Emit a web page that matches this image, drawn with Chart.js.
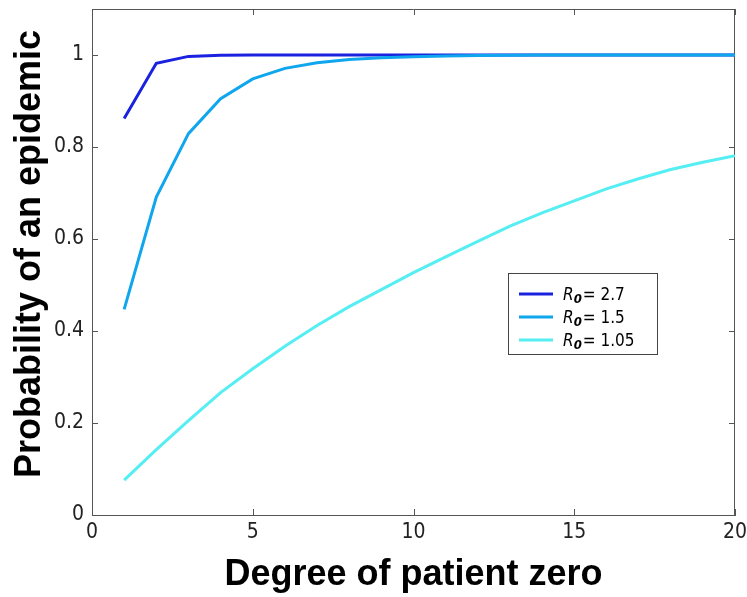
<!DOCTYPE html>
<html><head><meta charset="utf-8">
<script src="https://cdn.jsdelivr.net/npm/chart.js@4"></script>
<style>html,body{margin:0;padding:0;background:#fff;} canvas{display:block;}</style>
</head><body>
<canvas id="c" width="747" height="597"></canvas>
<script>
const degrees = [1,2,3,4,5,6,7,8,9,10,11,12,13,14,15,16,17,18,19,20];
const r0Values = ['2.7', '1.5', '1.05'];
const probR27 = [0.862,0.982,0.997,0.9995,1,1,1,1,1,1,1,1,1,1,1,1,1,1,1,1];
const probR15 = [0.447,0.691,0.829,0.905,0.948,0.971,0.983,0.990,0.994,0.996,0.998,0.999,0.9995,1,1,1,1,1,1,1];
const probR105 = [0.076,0.142,0.205,0.266,0.318,0.367,0.412,0.453,0.490,0.527,0.561,0.595,0.628,0.657,0.683,0.709,0.731,0.751,0.767,0.781];
const xTicks = [0,5,10,15,20];
const xTickLabels = ['0','5','10','15','20'];
const yTicks = [0,0.2,0.4,0.6,0.8,1];
const yTickLabels = ['0','0.2','0.4','0.6','0.8','1'];
const xTitle = 'Degree of patient zero';
const yTitle = 'Probability of an epidemic';
const seriesColors = ['#1a22e0', '#0fa6ee', '#55eef2'];

const NARROW = "'Liberation Sans Narrow', 'DejaVu Sans Condensed', 'Liberation Sans', sans-serif";
const BOLD = "'Liberation Sans', Arial, sans-serif";
const AXIS_COLOR = '#555';

const seriesData = [probR27, probR15, probR105];

const framePlugin = {
  id: 'frame',
  beforeDatasetsDraw(chart) {
    const {ctx, chartArea: ca, scales} = chart;
    ctx.save();
    ctx.strokeStyle = AXIS_COLOR;
    ctx.lineWidth = 1;
    ctx.beginPath();
    ctx.moveTo(ca.left, ca.top + 0.5); ctx.lineTo(ca.right, ca.top + 0.5);
    ctx.moveTo(ca.right - 0.5, ca.top); ctx.lineTo(ca.right - 0.5, ca.bottom);
    const tl = 6;
    xTicks.forEach(v => {
      const x = Math.round(scales.x.getPixelForValue(v)) + 0.5;
      ctx.moveTo(x, ca.bottom); ctx.lineTo(x, ca.bottom - tl);
      ctx.moveTo(x, ca.top); ctx.lineTo(x, ca.top + tl);
    });
    yTicks.forEach(v => {
      const y = Math.round(scales.y.getPixelForValue(v)) + 0.5;
      ctx.moveTo(ca.left, y); ctx.lineTo(ca.left + tl, y);
      ctx.moveTo(ca.right, y); ctx.lineTo(ca.right - tl, y);
    });
    ctx.stroke();
    ctx.restore();
  },
  afterDraw(chart) {
    const {ctx, chartArea: ca} = chart;
    ctx.save();
    ctx.translate(29.6, (ca.top + ca.bottom) / 2 - 8);
    ctx.rotate(-Math.PI / 2);
    ctx.fillStyle = '#000';
    ctx.font = 'bold 36px ' + BOLD;
    ctx.textAlign = 'center';
    ctx.textBaseline = 'middle';
    ctx.fillText(yTitle, 0, 0);
    ctx.restore();
  }
};

const legendPlugin = {
  id: 'r0legend',
  afterDatasetsDraw(chart) {
    const {ctx, chartArea: ca} = chart;
    const w = 149, h = 81;
    const left = ca.right - 78 - w, top = ca.top + 264;
    ctx.save();
    ctx.fillStyle = '#fff';
    ctx.fillRect(left, top, w, h);
    ctx.strokeStyle = '#444';
    ctx.lineWidth = 1;
    ctx.strokeRect(left + 0.5, top + 0.5, w, h);
    chart.data.datasets.forEach((ds, i) => {
      const cy = top + 21 + i * 23;
      ctx.strokeStyle = ds.borderColor;
      ctx.lineWidth = 3;
      ctx.beginPath();
      ctx.moveTo(left + 11, cy); ctx.lineTo(left + 45, cy);
      ctx.stroke();
      ctx.fillStyle = '#000';
      ctx.textBaseline = 'alphabetic';
      ctx.textAlign = 'left';
      let x = left + 55;
      const base = cy + 6;
      ctx.font = 'italic 17px ' + NARROW;
      ctx.fillText('R', x, base);
      x += ctx.measureText('R').width;
      ctx.font = 'italic bold 13px ' + NARROW;
      ctx.fillText('0', x, base + 3);
      x += ctx.measureText('0').width + 1;
      ctx.font = '17px ' + NARROW;
      ctx.fillText('= ' + r0Values[i], x, base);
    });
    ctx.restore();
  }
};

new Chart(document.getElementById('c'), {
  type: 'line',
  data: {
    labels: degrees,
    datasets: seriesData.map((d, i) => ({
      label: 'R0= ' + r0Values[i],
      data: degrees.map((x, j) => ({x: x, y: d[j]})),
      borderColor: seriesColors[i],
      backgroundColor: seriesColors[i],
      borderWidth: 3,
      pointRadius: 0,
      tension: 0,
      fill: false,
      order: 3 - i
    }))
  },
  options: {
    responsive: false,
    animation: false,
    devicePixelRatio: 1,
    layout: {padding: {top: 9, right: 12, left: 0, bottom: 0}},
    plugins: {legend: {display: false}, tooltip: {enabled: false}},
    scales: {
      x: {
        type: 'linear', min: 0, max: 20,
        grid: {display: false, drawTicks: false},
        border: {display: true, color: AXIS_COLOR, width: 1},
        afterBuildTicks: s => { s.ticks = xTicks.map(v => ({value: v})); },
        afterFit: s => { s.height = 82; s.paddingLeft = 0; s.paddingRight = 0; },
        ticks: {
          padding: 5, color: '#222', maxRotation: 0,
          font: {family: NARROW, size: 21},
          callback: (v) => xTickLabels[xTicks.indexOf(v)]
        },
        title: {display: true, text: xTitle, color: '#000',
          font: {family: BOLD, size: 36, weight: 'bold'}, padding: {top: 0, bottom: 0}}
      },
      y: {
        type: 'linear', min: 0, max: 1.1,
        grid: {display: false, drawTicks: false},
        border: {display: true, color: AXIS_COLOR, width: 1},
        afterBuildTicks: s => { s.ticks = yTicks.map(v => ({value: v})); },
        afterFit: s => { s.width = 92; s.paddingTop = 0; s.paddingBottom = 0; },
        ticks: {
          padding: 8, color: '#222',
          font: {family: NARROW, size: 21},
          callback: (v) => yTickLabels[yTicks.indexOf(v)]
        },
        title: {display: false}
      }
    }
  },
  plugins: [framePlugin, legendPlugin]
});
</script>
</body></html>
